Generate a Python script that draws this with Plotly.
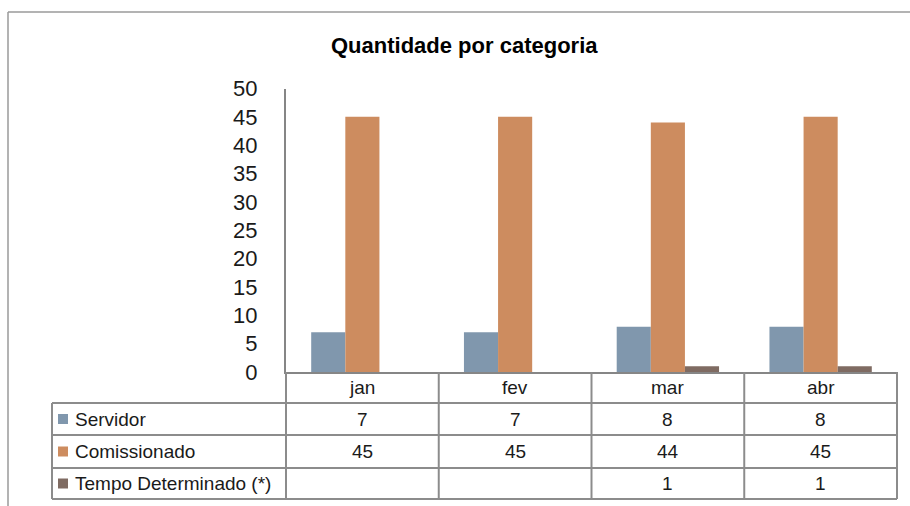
"""
Bar chart with a data table underneath, Excel style.
"""

import plotly.graph_objects as go

W, H = 910, 506

months = ['jan', 'fev', 'mar', 'abr']
series_names = ['Servidor', 'Comissionado', 'Tempo Determinado (*)']
servidor = [7, 7, 8, 8]
comissionado = [45, 45, 44, 45]
tempo_determinado = [None, None, 1, 1]
y_ticks = [0, 5, 10, 15, 20, 25, 30, 35, 40, 45, 50]

colors = ['#8097ad', '#cd8c5f', '#7f6b62']
line_color = '#8c8c8c'
font_family = 'Liberation Sans, Arial, sans-serif'


def px_x(x: float) -> float:
    return x / W


def px_y(y: float) -> float:
    return 1 - y / H


def hline(y, x0, x1, xref='paper', width=2, color=line_color):
    return dict(type='line', xref=xref, yref='paper', x0=x0, x1=x1,
                y0=px_y(y), y1=px_y(y), line=dict(color=color, width=width))


def vline(x, y0, y1, xref='paper', width=2, color=line_color):
    return dict(type='line', xref=xref, yref='paper', x0=x, x1=x,
                y0=px_y(y0), y1=px_y(y1), line=dict(color=color, width=width))


def label(x, y, text, font, xref='paper', xanchor='center'):
    return dict(x=x, y=y, xref=xref, yref='paper', text=text, showarrow=False,
                xanchor=xanchor, yanchor='middle', font=font)


# plot area in pixels
plot_left, plot_right = 286, 897
plot_top, plot_bottom = 88.5, 372
table_left = 52
row_edges = [372, 403, 435, 468, 499]

fig = go.Figure()
all_values = [servidor, comissionado, tempo_determinado]
for name, values, color in zip(series_names, all_values, colors):
    fig.add_trace(go.Bar(x=months, y=values, name=name, marker_color=color,
                         marker_line_width=0, showlegend=False))

shapes = []
# outer chart border (left and top)
shapes.append(hline(12, px_x(8), 1, color='#9a9a9a', width=1.5))
shapes.append(vline(px_x(8), 12, H, color='#9a9a9a', width=1.5))

# table rows
for y in row_edges[1:]:
    shapes.append(hline(y, px_x(table_left), px_x(plot_right)))
shapes.append(vline(px_x(table_left), row_edges[1], row_edges[-1]))
shapes.append(vline(px_x(plot_right), row_edges[0], row_edges[-1]))
shapes.append(vline(px_x(plot_left), row_edges[0], row_edges[-1]))
# column separators follow the category axis
for i in range(1, len(months)):
    shapes.append(vline(i - 0.5, row_edges[0], row_edges[-1], xref='x'))

annotations = []
table_font = dict(family=font_family, size=19, color='#1a1a1a')

# category header row
for m in months:
    annotations.append(label(m, px_y((row_edges[0] + row_edges[1]) / 2), m, table_font, xref='x'))

# series rows: legend key, name and values
for r, (name, values, color) in enumerate(zip(series_names, all_values, colors)):
    yc = (row_edges[r + 1] + row_edges[r + 2]) / 2
    shapes.append(dict(type='rect', xref='paper', yref='paper',
                       x0=px_x(58), x1=px_x(68), y0=px_y(yc + 5), y1=px_y(yc - 5),
                       fillcolor=color, line_width=0))
    annotations.append(label(px_x(73), px_y(yc), name, table_font, xanchor='left'))
    for m, v in zip(months, values):
        if v is None:
            continue
        annotations.append(label(m, px_y(yc), str(v), table_font, xref='x'))

# title
annotations.append(label(px_x(465), px_y(45), '<b>Quantidade por categoria</b>',
                         dict(family=font_family, size=22, color='#000000')))

fig.update_layout(
    template='none',
    width=W, height=H, autosize=False,
    margin=dict(l=0, r=0, t=0, b=0, pad=0),
    paper_bgcolor='white', plot_bgcolor='white',
    barmode='group', bargap=0.33, bargroupgap=0,
    shapes=shapes, annotations=annotations,
    xaxis=dict(domain=[px_x(plot_left), px_x(plot_right)], type='category',
               range=[-0.5, len(months) - 0.5], showticklabels=False,
               showgrid=False, zeroline=False, showline=True, automargin=False,
               linecolor='#868686', linewidth=2),
    yaxis=dict(domain=[px_y(plot_bottom), px_y(plot_top)], range=[0, 50],
               tickvals=y_ticks, showgrid=False, zeroline=False, automargin=False,
               showline=True, linecolor='#868686', linewidth=2,
               ticks='', ticklabelstandoff=22,
               tickfont=dict(family=font_family, size=22, color='#1a1a1a')),
)

# drop the default page margin so the figure sits at the window corner
fig.write_html('out.html', config={'responsive': False, 'displayModeBar': False},
               post_script="document.body.style.margin='0';")
